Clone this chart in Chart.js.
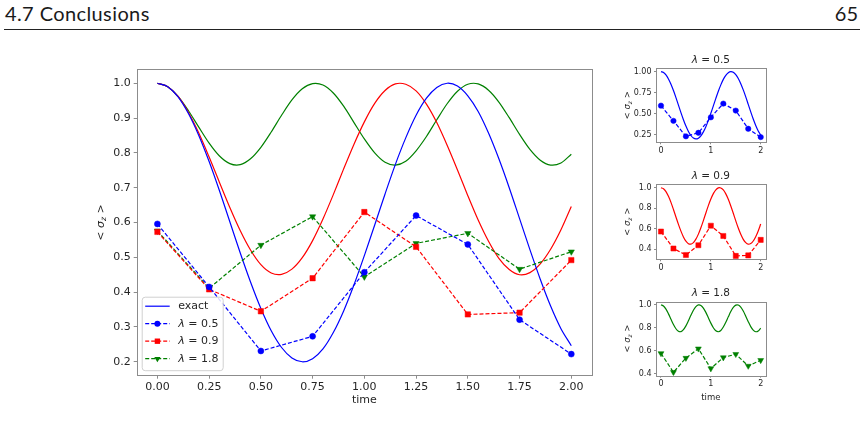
<!DOCTYPE html>
<html>
<head>
<meta charset="utf-8">
<script src="https://cdn.jsdelivr.net/npm/chart.js@4.4.1/dist/chart.umd.min.js"></script>
<style>
  body { margin: 0; width: 864px; height: 435px; background: #fff; position: relative; overflow: hidden; }
  .box { position: absolute; }
  #hl { position: absolute; left: 5px; top: 1px; font: 20px Lato, sans-serif; letter-spacing: 0.4px; color: #1a1a1a; }
  #hr { position: absolute; right: 6px; top: 1px; font: 20px Lato, sans-serif; color: #1a1a1a; }
  #rule { position: absolute; left: 4px; right: 4px; top: 29px; height: 1px; background: #222; }
</style>
</head>
<body>
<div id="hl">4.7 Conclusions</div>
<div id="hr">65</div>
<div id="rule"></div>

<div class="box" style="left:80px;top:55px"><canvas id="mainChart" width="530" height="360"></canvas></div>
<div class="box" style="left:600px;top:48px"><canvas id="sub05" width="180" height="115"></canvas></div>
<div class="box" style="left:600px;top:164px"><canvas id="sub09" width="180" height="115"></canvas></div>
<div class="box" style="left:600px;top:280px"><canvas id="sub18" width="180" height="130"></canvas></div>

<script>
// time grid of the exact curves
const T_EXACT = [0, 0.05, 0.1, 0.15, 0.2, 0.25, 0.3, 0.35, 0.4, 0.45, 0.5, 0.55, 0.6, 0.65, 0.7, 0.75, 0.8, 0.85, 0.9, 0.95,
                 1, 1.05, 1.1, 1.15, 1.2, 1.25, 1.3, 1.35, 1.4, 1.45, 1.5, 1.55, 1.6, 1.65, 1.7, 1.75, 1.8, 1.85, 1.9, 1.95, 2];

// exact <sigma_z>
const EXACT_05 = [1.000, 0.990, 0.961, 0.913, 0.850, 0.775, 0.691, 0.602, 0.513, 0.429, 0.353, 0.289, 0.241, 0.211, 0.200, 0.209, 0.237, 0.284, 0.346, 0.421,
                  0.505, 0.593, 0.682, 0.767, 0.843, 0.908, 0.957, 0.988, 1.000, 0.992, 0.964, 0.919, 0.857, 0.783, 0.700, 0.611, 0.522, 0.437, 0.360, 0.295, 0.246];
const EXACT_09 = [1.000, 0.990, 0.962, 0.916, 0.857, 0.788, 0.715, 0.643, 0.577, 0.521, 0.479, 0.455, 0.451, 0.466, 0.499, 0.548, 0.610, 0.680, 0.754, 0.825,
                  0.889, 0.942, 0.979, 0.998, 0.997, 0.978, 0.940, 0.887, 0.822, 0.751, 0.677, 0.607, 0.546, 0.497, 0.465, 0.450, 0.456, 0.481, 0.523, 0.579, 0.646];
const EXACT_18 = [1.000, 0.990, 0.962, 0.921, 0.874, 0.828, 0.791, 0.769, 0.766, 0.783, 0.816, 0.860, 0.908, 0.952, 0.984, 0.999, 0.995, 0.972, 0.934, 0.887,
                  0.840, 0.800, 0.773, 0.765, 0.776, 0.806, 0.847, 0.895, 0.941, 0.977, 0.997, 0.998, 0.980, 0.946, 0.901, 0.853, 0.810, 0.779, 0.765, 0.771, 0.796];

// simulated points (dashed, with markers)
const T_SIM = [0, 0.25, 0.5, 0.75, 1, 1.25, 1.5, 1.75, 2];
const SIM_05 = [0.596, 0.415, 0.231, 0.273, 0.457, 0.620, 0.537, 0.321, 0.222];
const SIM_09 = [0.573, 0.408, 0.345, 0.440, 0.630, 0.530, 0.336, 0.341, 0.492];
const SIM_18 = [0.576, 0.411, 0.535, 0.617, 0.444, 0.540, 0.569, 0.466, 0.516];

const LAMBDAS = ["0.5", "0.9", "1.8"];

// tick labels
const MAIN_X_TICKS = [0, 0.25, 0.5, 0.75, 1, 1.25, 1.5, 1.75, 2];
const MAIN_X_LABELS = ["0.00", "0.25", "0.50", "0.75", "1.00", "1.25", "1.50", "1.75", "2.00"];
const MAIN_Y_TICKS = [0.2, 0.3, 0.4, 0.5, 0.6, 0.7, 0.8, 0.9, 1.0];
const MAIN_Y_LABELS = ["0.2", "0.3", "0.4", "0.5", "0.6", "0.7", "0.8", "0.9", "1.0"];
const SUB_X_TICKS = [0, 1, 2];
const SUB_X_LABELS = ["0", "1", "2"];
const SUB05_Y_TICKS = [0.25, 0.5, 0.75, 1.0];
const SUB05_Y_LABELS = ["0.25", "0.50", "0.75", "1.00"];
const SUB_Y_TICKS = [0.4, 0.6, 0.8, 1.0];
const SUB_Y_LABELS = ["0.4", "0.6", "0.8", "1.0"];

const BLUE = "#0000ff";
const RED = "#ff0000";
const GREEN = "#008000";
const FONT = '"DejaVu Sans", sans-serif';
const TXT = "#262626";
const SPINE = "#8c8c8c";

function exactSet(vals, color) {
    return {
        data: T_EXACT.map((t, i) => ({ x: t, y: vals[i] })),
        borderColor: color,
        borderWidth: 1.2,
        pointRadius: 0,
        tension: 0.3,
        order: 1
    };
}

function simSet(vals, color, style, r, rot) {
    return {
        data: T_SIM.map((t, i) => ({ x: t, y: vals[i] })),
        borderColor: color,
        backgroundColor: color,
        pointBackgroundColor: color,
        pointBorderColor: color,
        pointBorderWidth: 0.5,
        borderWidth: 1.2,
        borderDash: [4, 2],
        pointStyle: style,
        pointRadius: r,
        pointRotation: rot,
        tension: 0,
        order: 0
    };
}

// "< σz >" rotated, subscript drawn smaller
function sigmaLabel(ctx, x, y, size) {
    ctx.save();
    ctx.translate(x, y);
    ctx.rotate(-Math.PI / 2);
    ctx.fillStyle = TXT;
    ctx.textBaseline = "middle";
    const big = size + "px " + FONT;
    const ital = "italic " + size + "px " + FONT;
    const sub = "italic " + (size * 0.7) + "px " + FONT;
    const parts = [["< ", big, 0], ["σ", ital, 0], ["z", sub, size * 0.3], [" >", big, 0]];
    let w = 0;
    parts.forEach(p => { ctx.font = p[1]; w += ctx.measureText(p[0]).width; });
    let cx = -w / 2;
    parts.forEach(p => {
        ctx.font = p[1];
        ctx.fillText(p[0], cx, p[2]);
        cx += ctx.measureText(p[0]).width;
    });
    ctx.restore();
}

// "λ = 0.5" with italic lambda
function lambdaText(ctx, x, y, size, value, align) {
    ctx.save();
    ctx.fillStyle = TXT;
    ctx.textBaseline = "middle";
    const a = "italic " + size + "px " + FONT;
    const b = size + "px " + FONT;
    const rest = " = " + value;
    ctx.font = a;
    const w1 = ctx.measureText("λ").width;
    ctx.font = b;
    const w2 = ctx.measureText(rest).width;
    let sx = align === "center" ? x - (w1 + w2) / 2 : x;
    ctx.font = a;
    ctx.fillText("λ", sx, y);
    ctx.font = b;
    ctx.fillText(rest, sx + w1, y);
    ctx.restore();
}

function marker(ctx, style, x, y, r, color) {
    ctx.save();
    ctx.fillStyle = color;
    ctx.beginPath();
    if (style === "circle") {
        ctx.arc(x, y, r, 0, Math.PI * 2);
    } else if (style === "rect") {
        const s = r * Math.SQRT1_2;
        ctx.rect(x - s, y - s, 2 * s, 2 * s);
    } else {
        ctx.moveTo(x - r * 0.866, y - r * 0.5);
        ctx.lineTo(x + r * 0.866, y - r * 0.5);
        ctx.lineTo(x, y + r);
        ctx.closePath();
    }
    ctx.fill();
    ctx.restore();
}

function makeDecor(spec) {
    return {
        id: "decor",
        afterDraw(chart) {
            const ctx = chart.ctx;
            const a = chart.chartArea;
            ctx.save();
            ctx.strokeStyle = SPINE;
            ctx.lineWidth = 1;
            ctx.strokeRect(Math.round(a.left) + 0.5, Math.round(a.top) + 0.5,
                Math.round(a.right - a.left), Math.round(a.bottom - a.top));
            ctx.restore();

            sigmaLabel(ctx, a.left - spec.ylabelOff, (a.top + a.bottom) / 2, spec.labelSize);

            if (spec.xlabel) {
                ctx.save();
                ctx.fillStyle = TXT;
                ctx.font = spec.labelSize + "px " + FONT;
                ctx.textAlign = "center";
                ctx.textBaseline = "middle";
                ctx.fillText("time", (a.left + a.right) / 2, a.bottom + spec.xlabelOff);
                ctx.restore();
            }

            if (spec.title) {
                lambdaText(ctx, (a.left + a.right) / 2, a.top - spec.titleOff, spec.titleSize, spec.title, "center");
            }

            if (spec.legend) {
                const x0 = a.left + 5, y0 = a.bottom - 79, w = 81, h = 73.5;
                ctx.save();
                ctx.fillStyle = "rgba(255,255,255,0.85)";
                ctx.strokeStyle = "#d0d0d0";
                ctx.lineWidth = 1;
                ctx.beginPath();
                ctx.roundRect(x0 + 0.5, y0 + 0.5, w, h, 3);
                ctx.fill();
                ctx.stroke();
                ctx.restore();

                const rows = [
                    { color: BLUE, dash: false, mark: null, text: "exact" },
                    { color: BLUE, dash: true, mark: "circle", r: 3, lam: LAMBDAS[0] },
                    { color: RED, dash: true, mark: "rect", r: 3.8, lam: LAMBDAS[1] },
                    { color: GREEN, dash: true, mark: "tri", r: 3.6, lam: LAMBDAS[2] }
                ];
                const ys = [9.5, 27, 44.5, 62];
                rows.forEach((row, i) => {
                    const y = y0 + ys[i];
                    ctx.save();
                    ctx.strokeStyle = row.color;
                    ctx.lineWidth = 1.2;
                    ctx.setLineDash(row.dash ? [4, 2] : []);
                    ctx.beginPath();
                    ctx.moveTo(x0 + 3.5, y);
                    ctx.lineTo(x0 + 28, y);
                    ctx.stroke();
                    ctx.restore();
                    if (row.mark) marker(ctx, row.mark, x0 + 15.7, y, row.r, row.color);
                    if (row.text) {
                        ctx.save();
                        ctx.fillStyle = TXT;
                        ctx.font = "11px " + FONT;
                        ctx.textBaseline = "middle";
                        ctx.fillText(row.text, x0 + 36.5, y);
                        ctx.restore();
                    } else {
                        lambdaText(ctx, x0 + 36.5, y, 11, row.lam, "left");
                    }
                });
            }
        }
    };
}

function buildChart(id, spec) {
    const canvas = document.getElementById(id);
    const W = canvas.width, H = canvas.height;
    const a = spec.area;
    return new Chart(canvas, {
        type: "line",
        data: { datasets: spec.datasets },
        options: {
            responsive: false,
            animation: false,
            devicePixelRatio: 1,
            layout: { padding: { left: 0, top: a.top, right: W - a.right, bottom: 0 } },
            plugins: { legend: { display: false }, tooltip: { enabled: false } },
            scales: {
                x: {
                    type: "linear",
                    min: -0.1,
                    max: 2.1,
                    afterFit: s => { s.height = H - a.bottom; },
                    afterBuildTicks: s => { s.ticks = spec.xTicks.map(v => ({ value: v })); },
                    border: { display: false },
                    grid: { drawOnChartArea: false, drawTicks: true, tickLength: spec.tickLen, color: SPINE },
                    ticks: {
                        autoSkip: false, maxRotation: 0, padding: spec.tickPad,
                        color: TXT, font: { family: FONT, size: spec.tickSize },
                        callback: (v, i) => spec.xLabels[i]
                    }
                },
                y: {
                    type: "linear",
                    min: spec.yMin,
                    max: spec.yMax,
                    afterFit: s => { s.width = a.left; },
                    afterBuildTicks: s => { s.ticks = spec.yTicks.map(v => ({ value: v })); },
                    border: { display: false },
                    grid: { drawOnChartArea: false, drawTicks: true, tickLength: spec.tickLen, color: SPINE },
                    ticks: {
                        autoSkip: false, padding: spec.tickPad + 1,
                        color: TXT, font: { family: FONT, size: spec.tickSize },
                        callback: (v, i) => spec.yLabels[i]
                    }
                }
            }
        },
        plugins: [makeDecor(spec)]
    });
}

// main panel
buildChart("mainChart", {
    area: { left: 56.7, top: 14.3, right: 512, bottom: 320.7 },
    yMin: 0.16, yMax: 1.04,
    xTicks: MAIN_X_TICKS, xLabels: MAIN_X_LABELS,
    yTicks: MAIN_Y_TICKS, yLabels: MAIN_Y_LABELS,
    tickSize: 11, tickLen: 3, tickPad: 2,
    labelSize: 11, ylabelOff: 36, xlabel: true, xlabelOff: 24.5,
    legend: true,
    datasets: [
        exactSet(EXACT_05, BLUE),
        exactSet(EXACT_09, RED),
        exactSet(EXACT_18, GREEN),
        simSet(SIM_05, BLUE, "circle", 3, 0),
        simSet(SIM_09, RED, "rect", 3.8, 0),
        simSet(SIM_18, GREEN, "triangle", 3.6, 180)
    ]
});

// small panels
const SMALL = { tickSize: 8, tickLen: 2, tickPad: 1.5, labelSize: 8.5, ylabelOff: 28, titleSize: 10.5, titleOff: 8 };

buildChart("sub05", Object.assign({}, SMALL, {
    area: { left: 56, top: 20.3, right: 165.7, bottom: 94.3 },
    yMin: 0.16, yMax: 1.04,
    xTicks: SUB_X_TICKS, xLabels: SUB_X_LABELS,
    yTicks: SUB05_Y_TICKS, yLabels: SUB05_Y_LABELS,
    title: LAMBDAS[0],
    datasets: [exactSet(EXACT_05, BLUE), simSet(SIM_05, BLUE, "circle", 2.7, 0)]
}));

buildChart("sub09", Object.assign({}, SMALL, {
    area: { left: 56, top: 20.3, right: 165.7, bottom: 95.3 },
    yMin: 0.303, yMax: 1.033,
    xTicks: SUB_X_TICKS, xLabels: SUB_X_LABELS,
    yTicks: SUB_Y_TICKS, yLabels: SUB_Y_LABELS,
    title: LAMBDAS[1],
    datasets: [exactSet(EXACT_09, RED), simSet(SIM_09, RED, "rect", 3.6, 0)]
}));

buildChart("sub18", Object.assign({}, SMALL, {
    area: { left: 56, top: 21.5, right: 165.7, bottom: 95.7 },
    yMin: 0.381, yMax: 1.029,
    xTicks: SUB_X_TICKS, xLabels: SUB_X_LABELS,
    yTicks: SUB_Y_TICKS, yLabels: SUB_Y_LABELS,
    title: LAMBDAS[2], xlabel: true, xlabelOff: 22,
    datasets: [exactSet(EXACT_18, GREEN), simSet(SIM_18, GREEN, "triangle", 3.4, 180)]
}));
</script>
</body>
</html>
